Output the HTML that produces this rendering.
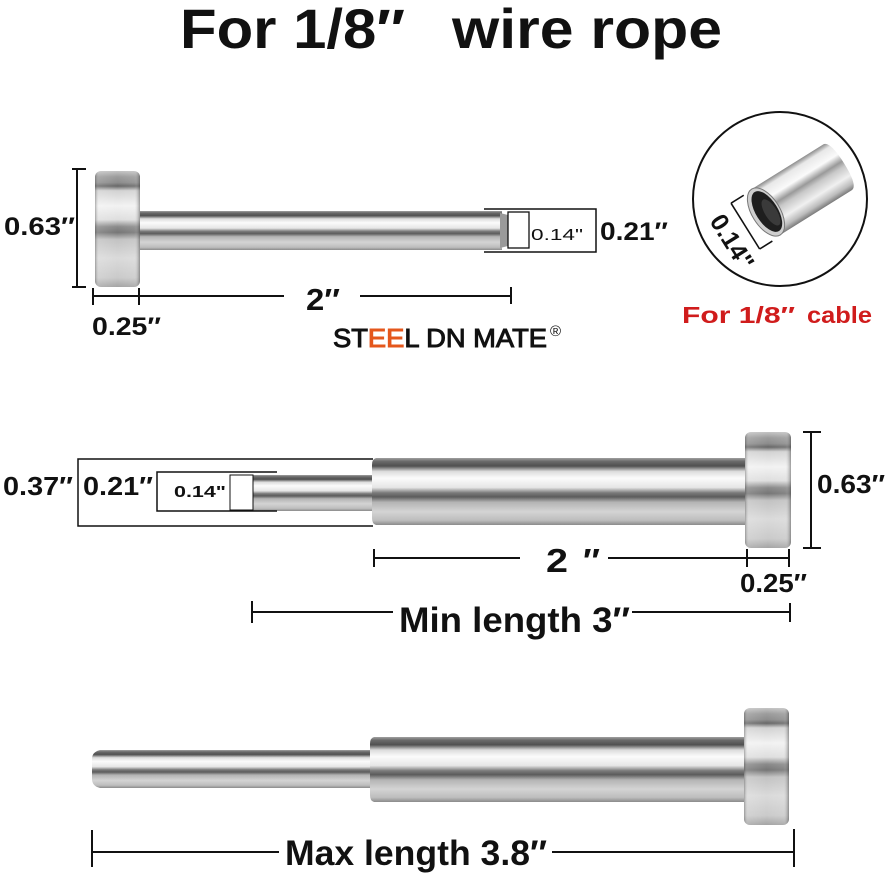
<!DOCTYPE html>
<html>
<head>
<meta charset="utf-8">
<style>
html,body{margin:0;padding:0;background:#fff;}
svg{display:block;}
text{font-family:"Liberation Sans","DejaVu Sans",sans-serif;}
</style>
</head>
<body>
<svg width="892" height="879" viewBox="0 0 892 879" xmlns="http://www.w3.org/2000/svg">
<defs>
  <linearGradient id="tube" x1="0" y1="0" x2="0" y2="1">
    <stop offset="0" stop-color="#a0a0a0"/>
    <stop offset="0.05" stop-color="#6a6a6a"/>
    <stop offset="0.12" stop-color="#505050"/>
    <stop offset="0.2" stop-color="#dcdcdc"/>
    <stop offset="0.3" stop-color="#fbfbfb"/>
    <stop offset="0.44" stop-color="#e6e6e6"/>
    <stop offset="0.52" stop-color="#7a7a7a"/>
    <stop offset="0.58" stop-color="#5c5c5c"/>
    <stop offset="0.66" stop-color="#b4b4b4"/>
    <stop offset="0.8" stop-color="#d4d4d4"/>
    <stop offset="0.93" stop-color="#bdbdbd"/>
    <stop offset="1" stop-color="#8a8a8a"/>
  </linearGradient>
  <linearGradient id="head" x1="0" y1="0" x2="0" y2="1">
    <stop offset="0" stop-color="#c4c4c4"/>
    <stop offset="0.05" stop-color="#9c9c9c"/>
    <stop offset="0.1" stop-color="#8c8c8c"/>
    <stop offset="0.13" stop-color="#686868"/>
    <stop offset="0.17" stop-color="#d2d2d2"/>
    <stop offset="0.3" stop-color="#f2f2f2"/>
    <stop offset="0.42" stop-color="#dedede"/>
    <stop offset="0.48" stop-color="#8a8a8a"/>
    <stop offset="0.53" stop-color="#767676"/>
    <stop offset="0.59" stop-color="#c2c2c2"/>
    <stop offset="0.75" stop-color="#dadada"/>
    <stop offset="0.92" stop-color="#cacaca"/>
    <stop offset="1" stop-color="#a4a4a4"/>
  </linearGradient>
  <linearGradient id="headEdge" x1="0" y1="0" x2="1" y2="0">
    <stop offset="0" stop-color="#555" stop-opacity="0.45"/>
    <stop offset="0.08" stop-color="#fff" stop-opacity="0.15"/>
    <stop offset="0.5" stop-color="#fff" stop-opacity="0"/>
    <stop offset="0.88" stop-color="#fff" stop-opacity="0.1"/>
    <stop offset="1" stop-color="#444" stop-opacity="0.5"/>
  </linearGradient>
  <linearGradient id="ctube" x1="0" y1="0" x2="0" y2="1">
    <stop offset="0" stop-color="#8c8c8c"/>
    <stop offset="0.1" stop-color="#e8e8e8"/>
    <stop offset="0.3" stop-color="#fafafa"/>
    <stop offset="0.45" stop-color="#9a9a9a"/>
    <stop offset="0.55" stop-color="#c8c8c8"/>
    <stop offset="0.75" stop-color="#f0f0f0"/>
    <stop offset="0.9" stop-color="#bdbdbd"/>
    <stop offset="1" stop-color="#7a7a7a"/>
  </linearGradient>
  <clipPath id="cclip"><circle cx="780" cy="199" r="84"/></clipPath>
</defs>

<!-- Title -->
<text x="180" y="48" font-size="56" font-weight="bold" fill="#111" textLength="225" lengthAdjust="spacingAndGlyphs">For 1/8″</text>
<text x="452" y="48" font-size="56" font-weight="bold" fill="#111" textLength="270" lengthAdjust="spacingAndGlyphs">wire rope</text>

<!-- ============ TOP FITTING ============ -->
<rect x="138" y="211" width="364" height="39" fill="url(#tube)"/>
<path d="M500 213 L508 215 L508 246 L500 248 Z" fill="#9a9a9a"/>
<rect x="95" y="171" width="45" height="116" rx="6" fill="url(#head)"/>
<rect x="95" y="171" width="45" height="116" rx="6" fill="url(#headEdge)"/>
<rect x="508" y="209" width="88" height="43" fill="#fff"/>
<polyline points="484,209 596,209 596,252 484,252" fill="none" stroke="#111" stroke-width="1.5"/>
<rect x="508" y="212" width="21" height="36" fill="#fff" stroke="#111" stroke-width="1.3"/>
<text x="531" y="240" font-size="16" fill="#111" textLength="52" lengthAdjust="spacingAndGlyphs">0.14"</text>
<text x="600" y="240" font-size="25" font-weight="bold" fill="#111" textLength="68" lengthAdjust="spacingAndGlyphs">0.21″</text>
<line x1="77" y1="169" x2="77" y2="287" stroke="#111" stroke-width="2"/>
<line x1="72" y1="169" x2="86" y2="169" stroke="#111" stroke-width="2"/>
<line x1="72" y1="287" x2="86" y2="287" stroke="#111" stroke-width="2"/>
<text x="4" y="235" font-size="25" font-weight="bold" fill="#111" textLength="71" lengthAdjust="spacingAndGlyphs">0.63″</text>
<line x1="93" y1="296" x2="284" y2="296" stroke="#111" stroke-width="2"/>
<line x1="360" y1="296" x2="511" y2="296" stroke="#111" stroke-width="2"/>
<line x1="93" y1="288" x2="93" y2="305" stroke="#111" stroke-width="2"/>
<line x1="139" y1="288" x2="139" y2="305" stroke="#111" stroke-width="2"/>
<line x1="511" y1="287" x2="511" y2="304" stroke="#111" stroke-width="2"/>
<text x="306" y="310" font-size="31" font-weight="bold" fill="#111" textLength="34" lengthAdjust="spacingAndGlyphs">2″</text>
<text x="92" y="335" font-size="25" font-weight="bold" fill="#111" textLength="69" lengthAdjust="spacingAndGlyphs">0.25″</text>
<text x="333" y="347" font-size="26" fill="#111" textLength="214" lengthAdjust="spacingAndGlyphs" stroke="#111" stroke-width="1">ST<tspan fill="#e4571c" stroke="#e4571c">EE</tspan>L DN MATE</text>
<text x="550" y="336" font-size="15" fill="#111">®</text>

<!-- ============ CIRCLE ============ -->
<circle cx="780" cy="199" r="87" fill="#fff" stroke="#111" stroke-width="2"/>
<g clip-path="url(#cclip)">
<g transform="translate(766,212) rotate(-32)">
  <path d="M0 -27 L84 -27 Q92 -27 92 0 Q92 27 84 27 L0 27 Z" fill="url(#ctube)"/>
  <ellipse cx="0" cy="0" rx="14" ry="27" fill="#cfcfcf" stroke="#777" stroke-width="1"/>
  <ellipse cx="1" cy="0" rx="11" ry="23" fill="#1e1e1e"/>
  <ellipse cx="4" cy="3" rx="6" ry="15" fill="#3a3a3a"/>
</g>
</g>
<g transform="translate(766,212) rotate(-32)">
  <line x1="-25" y1="-26" x2="-25" y2="28" stroke="#111" stroke-width="1.6"/>
  <line x1="-25" y1="-26" x2="-10" y2="-26" stroke="#111" stroke-width="1.6"/>
  <line x1="-25" y1="28" x2="-10" y2="28" stroke="#111" stroke-width="1.6"/>
</g>
<text transform="translate(709,221) rotate(58)" x="0" y="0" font-size="25" font-weight="bold" fill="#111" textLength="60" lengthAdjust="spacingAndGlyphs">0.14"</text>
<text x="682" y="323" font-size="23" font-weight="bold" fill="#d01c1c" textLength="113" lengthAdjust="spacingAndGlyphs">For 1/8″</text>
<text x="807" y="323" font-size="23" font-weight="bold" fill="#d01c1c" textLength="65" lengthAdjust="spacingAndGlyphs">cable</text>

<!-- ============ MIDDLE FITTING ============ -->
<rect x="253" y="475" width="122" height="36" fill="url(#tube)"/>
<path d="M376 458 L746 458 L746 525 L376 525 Q372 524 372 518 L372 465 Q372 459 376 458 Z" fill="url(#tube)"/>
<rect x="745" y="432" width="46" height="116" rx="6" fill="url(#head)"/>
<rect x="745" y="432" width="46" height="116" rx="6" fill="url(#headEdge)"/>
<polyline points="373,459 78,459 78,526 373,526" fill="none" stroke="#111" stroke-width="1.5"/>
<polyline points="277,472 157,472 157,511 277,511" fill="none" stroke="#111" stroke-width="1.5"/>
<rect x="230" y="475" width="23" height="35" fill="#fff" stroke="#111" stroke-width="1"/>
<text x="3" y="495" font-size="26" font-weight="bold" fill="#111" textLength="70" lengthAdjust="spacingAndGlyphs">0.37″</text>
<text x="83" y="495" font-size="26" font-weight="bold" fill="#111" textLength="70" lengthAdjust="spacingAndGlyphs">0.21″</text>
<text x="174" y="497" font-size="16" font-weight="bold" fill="#111" textLength="52" lengthAdjust="spacingAndGlyphs">0.14"</text>
<line x1="811" y1="432" x2="811" y2="548" stroke="#111" stroke-width="2"/>
<line x1="803" y1="432" x2="821" y2="432" stroke="#111" stroke-width="2"/>
<line x1="803" y1="548" x2="821" y2="548" stroke="#111" stroke-width="2"/>
<text x="817" y="493" font-size="26" font-weight="bold" fill="#111" textLength="68" lengthAdjust="spacingAndGlyphs">0.63″</text>
<line x1="374" y1="558" x2="520" y2="558" stroke="#111" stroke-width="2"/>
<line x1="608" y1="558" x2="790" y2="558" stroke="#111" stroke-width="2"/>
<line x1="374" y1="549" x2="374" y2="567" stroke="#111" stroke-width="2"/>
<line x1="747" y1="549" x2="747" y2="567" stroke="#111" stroke-width="2"/>
<line x1="789" y1="549" x2="789" y2="567" stroke="#111" stroke-width="2"/>
<text x="546" y="572" font-size="33" font-weight="bold" fill="#111" textLength="22" lengthAdjust="spacingAndGlyphs">2</text>
<text x="583" y="572" font-size="33" font-weight="bold" fill="#111" textLength="17" lengthAdjust="spacingAndGlyphs">″</text>
<text x="740" y="592" font-size="26" font-weight="bold" fill="#111" textLength="67" lengthAdjust="spacingAndGlyphs">0.25″</text>
<line x1="252" y1="612" x2="393" y2="612" stroke="#111" stroke-width="2"/>
<line x1="632" y1="612" x2="790" y2="612" stroke="#111" stroke-width="2"/>
<line x1="252" y1="601" x2="252" y2="623" stroke="#111" stroke-width="2"/>
<line x1="790" y1="603" x2="790" y2="622" stroke="#111" stroke-width="2"/>
<text x="399" y="632" font-size="35" font-weight="bold" fill="#111" textLength="231" lengthAdjust="spacingAndGlyphs">Min length 3″</text>

<!-- ============ BOTTOM FITTING ============ -->
<path d="M100 750 L372 750 L372 788 L100 788 Q92 786 92 779 L92 759 Q92 752 100 750 Z" fill="url(#tube)"/>
<path d="M374 737 L746 737 L746 802 L374 802 Q370 801 370 795 L370 744 Q370 738 374 737 Z" fill="url(#tube)"/>
<rect x="744" y="708" width="45" height="117" rx="6" fill="url(#head)"/>
<rect x="744" y="708" width="45" height="117" rx="6" fill="url(#headEdge)"/>
<line x1="92" y1="852" x2="279" y2="852" stroke="#111" stroke-width="2"/>
<line x1="552" y1="852" x2="794" y2="852" stroke="#111" stroke-width="2"/>
<line x1="92" y1="830" x2="92" y2="867" stroke="#111" stroke-width="2"/>
<line x1="794" y1="829" x2="794" y2="867" stroke="#111" stroke-width="2"/>
<text x="285" y="865" font-size="35" font-weight="bold" fill="#111" textLength="262" lengthAdjust="spacingAndGlyphs">Max length 3.8″</text>
</svg>
</body>
</html>
